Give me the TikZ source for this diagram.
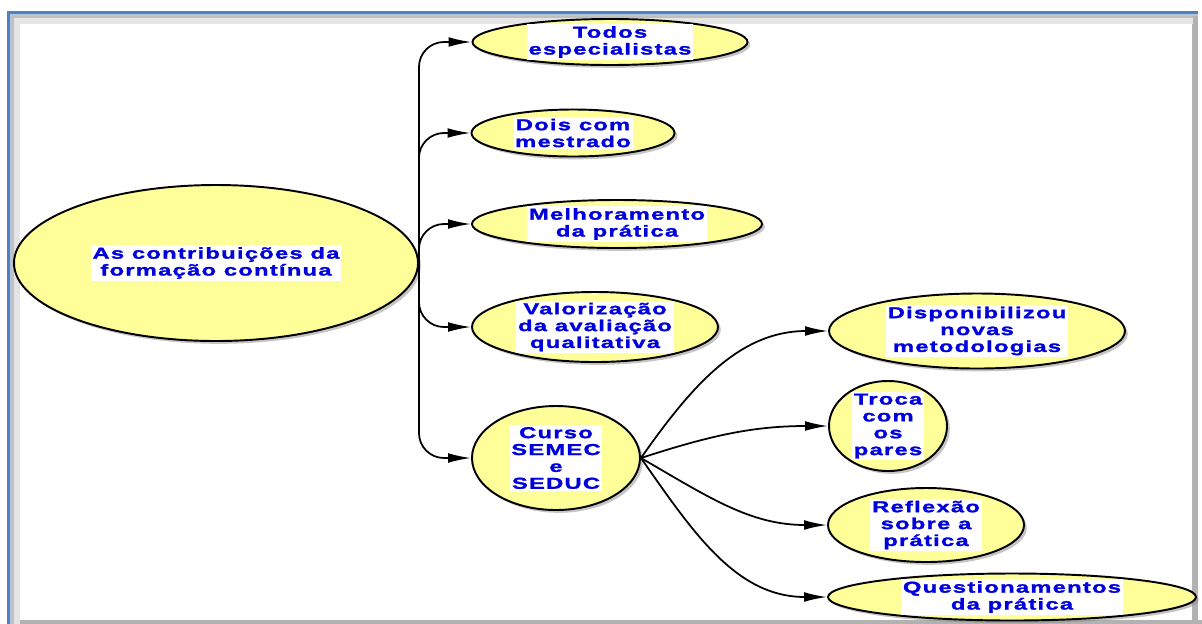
\documentclass[tikz,border=0pt]{standalone}
\usepackage{fontspec}
\newfontfamily\lblfont{Liberation Sans}[FakeStretch=1.5,LetterSpace=8,FakeBold=1.5]
\usetikzlibrary{shapes.geometric,shadows,arrows.meta}
\definecolor{leafyellow}{RGB}{255,255,153}
\definecolor{txtblue}{RGB}{0,0,220}
\definecolor{frameblue}{RGB}{79,129,189}
\tikzset{
  leaf/.style={draw, ellipse, line width=1.1pt, fill=leafyellow, inner sep=0pt,
    drop shadow={shadow xshift=1.6pt, shadow yshift=-1.6pt, fill=black!45}},
  sz/.style 2 args={minimum width=#1*0.02cm, minimum height=#2*0.02cm},
  txt/.style={fill=white, text=txtblue, inner sep=1pt, align=center,
    font=\lblfont\bfseries\fontsize{9}{9.6}\selectfont},
  arr/.style={-{Latex[length=13pt,width=5.5pt]}, line width=1pt}
}
\begin{document}
\begin{tikzpicture}[x=0.02cm,y=-0.02cm]
\useasboundingbox (0,0) rectangle (1202,623);
\fill[white] (0,0) rectangle (1202,623);
\draw[black!30, line width=3pt] (1195,14) -- (1195,640);
\draw[black!30, line width=2pt] (10,622) -- (1220,622);
\draw[black!10, line width=5pt] (16,640) -- (16,20) -- (1193,20);
\draw[black!25, line width=1.5pt] (13,640) -- (13,17) -- (1193,17);
\draw[frameblue, line width=2.6pt] (9,640) -- (9,13) -- (1198,13);
\draw[white!55!frameblue, line width=0.6pt] (11,640) -- (11,15) -- (1198,15);

\node[leaf, sz={404}{156}] (root) at (216,263) {};
\node[txt] (rootT) at (root) {As contribuições da\\formação contínua};

\node[leaf, sz={275}{46}] (todos) at (610,42) {};
\node[txt] (todosT) at (todos) {Todos\\especialistas};
\node[leaf, sz={203}{47}] (dois) at (573,133) {};
\node[txt] (doisT) at (dois) {Dois com\\mestrado};
\node[leaf, sz={290}{48}] (melh) at (617,224) {};
\node[txt] (melhT) at (melh) {Melhoramento\\da prática};
\node[leaf, sz={246}{70}] (valor) at (595,327) {};
\node[txt] (valorT) at (valor) {Valorização\\da avaliação\\qualitativa};
\node[leaf, sz={168}{104}] (curso) at (556,458) {};
\node[txt] (cursoT) at (curso) {Curso\\SEMEC\\e\\SEDUC};

\node[leaf, sz={296}{75}] (disp) at (977,331) {};
\node[txt] (dispT) at (disp) {Disponibilizou\\novas\\metodologias};
\node[leaf, sz={118}{90}] (troca) at (888,426) {};
\node[txt] (trocaT) at (troca) {Troca\\com\\os\\pares};
\node[leaf, sz={196}{74}] (refl) at (926,525) {};
\node[txt] (reflT) at (refl) {Reflexão\\sobre a\\prática};
\node[leaf, sz={368}{47}] (quest) at (1012,597) {};
\node[txt] (questT) at (quest) {Questionamentos\\da prática};

\draw[arr, rounded corners=0.5cm] (root.east) |- (todos.west);
\draw[arr, rounded corners=0.5cm] (root.east) |- (dois.west);
\draw[arr, rounded corners=0.5cm] (root.east) |- (melh.west);
\draw[arr, rounded corners=0.5cm] (root.east) |- (valor.west);
\draw[arr, rounded corners=0.5cm] (root.east) |- (curso.west);

\draw[arr] (curso.east) to[out=55, in=180] (disp.west);
\draw[arr] (curso.east) to[out=18, in=180] (troca.west);
\draw[arr] (curso.east) to[out=-30, in=180] (refl.west);
\draw[arr] (curso.east) to[out=-55, in=180] (quest.west);
\end{tikzpicture}
\end{document}
